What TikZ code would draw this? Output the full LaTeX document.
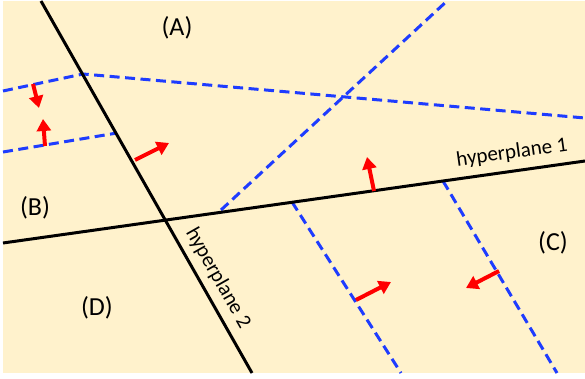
\documentclass[tikz,border=0pt]{standalone}
\usepackage{fontspec}
\setmainfont{Carlito}
\usetikzlibrary{arrows.meta}
\definecolor{bgyellow}{RGB}{255,242,204}
\definecolor{hblue}{RGB}{30,60,255}

\begin{document}
\begin{tikzpicture}[x=1pt, y=-1pt,
	hyper/.style = {line width=3pt},
	bound/.style = {hblue, line width=3pt, dash pattern=on 10pt off 5.5pt},
	normal/.style = {red, line width=4pt, -{Triangle[length=12pt,width=14pt]}},
	region/.style = {font=\fontsize{26}{30}\selectfont},
	hlabel/.style = {font=\fontsize{21}{25}\selectfont}]
	\useasboundingbox (0,0) rectangle (585,379);
	\fill [bgyellow] (3,1) rectangle (585,373);
	% points on the two hyperplanes
	\coordinate (h1l) at (3,243);   \coordinate (h1r) at (585,161);
	\coordinate (h2t) at (41,1);    \coordinate (h2b) at (252,373);
	% dashed boundaries
	\coordinate (ul) at (3,91);     \coordinate (kink) at (83,74);   \coordinate (ur) at (585,118);
	\coordinate (ll) at (3,152);    \coordinate (lr) at (117,133);
	\coordinate (dg1) at (221,210); \coordinate (dg2) at (447,1);
	\coordinate (c1t) at (292,202); \coordinate (c1b) at (401,373);
	\coordinate (c2t) at (443,181); \coordinate (c2b) at (557,373);
	\draw [bound] (ul) -- (kink) -- (ur);
	\draw [bound] (ll) -- (lr);
	\draw [bound] (dg1) -- (dg2);
	\draw [bound] (c1t) -- (c1b);
	\draw [bound] (c2t) -- (c2b);
	\draw [hyper] (h1l) -- (h1r);
	\draw [hyper] (h2t) -- (h2b);
	% normals
	\coordinate (n1a) at (33,84);   \coordinate (n1b) at (39,108);
	\coordinate (n2a) at (45,146);  \coordinate (n2b) at (43,119);
	\coordinate (n3a) at (135,160); \coordinate (n3b) at (169,143);
	\coordinate (n4a) at (374,191); \coordinate (n4b) at (367,157);
	\coordinate (n5a) at (356,300); \coordinate (n5b) at (391,282);
	\coordinate (n6a) at (499,271); \coordinate (n6b) at (466,288);
	\foreach \n in {1,...,6}
		\draw [normal] (n\n a) -- (n\n b);
	\node [region] (regA) at (177,28) {(A)};
	\node [region] (regB) at (35,208) {(B)};
	\node [region] (regC) at (553,243) {(C)};
	\node [region] (regD) at (97,308) {(D)};
	\node [hlabel, rotate=8] (lab1) at (512,153) {hyperplane 1};
	\node [hlabel, rotate=-60.4] (lab2) at (218,278) {hyperplane 2};
\end{tikzpicture}
\end{document}
